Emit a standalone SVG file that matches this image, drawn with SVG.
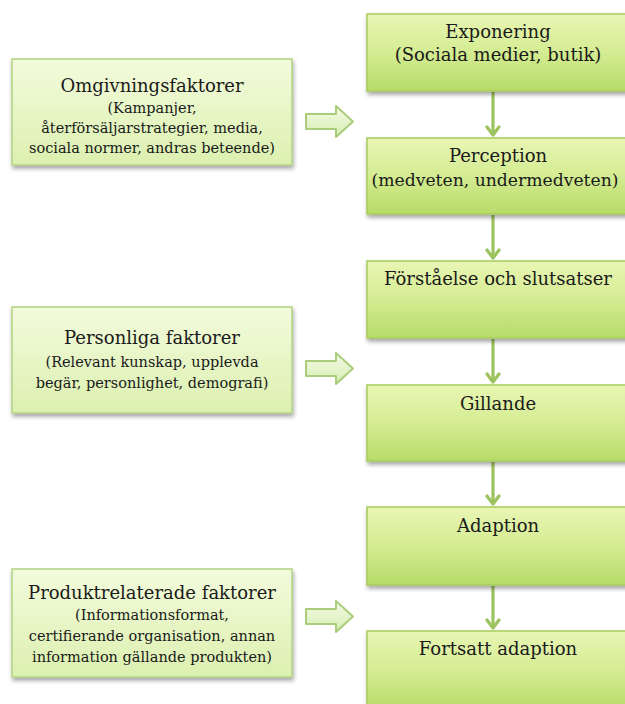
<svg xmlns="http://www.w3.org/2000/svg" width="625" height="704" viewBox="0 0 625 704">
<defs>
<linearGradient id="gR" x1="0" y1="0" x2="0" y2="1">
<stop offset="0" stop-color="#e9f6b4"/>
<stop offset="0.5" stop-color="#d4ec92"/>
<stop offset="1" stop-color="#b7db68"/>
</linearGradient>
<linearGradient id="gL" x1="0" y1="0" x2="0" y2="1">
<stop offset="0" stop-color="#f3fbdc"/>
<stop offset="1" stop-color="#dcf0b0"/>
</linearGradient>
<linearGradient id="gA" x1="0" y1="0" x2="0" y2="1">
<stop offset="0" stop-color="#f4fbe4"/>
<stop offset="1" stop-color="#d6edb4"/>
</linearGradient>
<filter id="sh" x="-10%" y="-10%" width="130%" height="140%">
<feGaussianBlur in="SourceAlpha" stdDeviation="2"/>
<feOffset dx="1" dy="3" result="b"/>
<feComponentTransfer><feFuncA type="linear" slope="0.35"/></feComponentTransfer>
<feMerge><feMergeNode/><feMergeNode in="SourceGraphic"/></feMerge>
</filter>
<marker id="ah" viewBox="0 0 12 16" refX="10" refY="8" markerWidth="12" markerHeight="16" markerUnits="userSpaceOnUse" orient="auto">
<path d="M2,2 L10,8 L2,14" fill="none" stroke="#9dc35e" stroke-width="3.2" stroke-linecap="round" stroke-linejoin="round"/>
</marker>
</defs>
<style>
.rb{fill:url(#gR);stroke:#a6cb5c;stroke-width:1.5;filter:url(#sh)}
.lb{fill:url(#gL);stroke:#b3d383;stroke-width:1.5;filter:url(#sh)}
.ba{fill:url(#gA);stroke:#a9cd7c;stroke-width:2;stroke-linejoin:round}
.t{font-family:"DejaVu Serif","Liberation Serif",serif;font-size:18px;fill:#1a1a1a;text-anchor:middle}
.s{font-family:"DejaVu Serif","Liberation Serif",serif;font-size:14.5px;fill:#1a1a1a;text-anchor:middle}
.c{stroke:#9dc35e;stroke-width:3.2;fill:none}
</style>
<rect width="625" height="704" fill="#ffffff"/>

<g id="connectors">
<line class="c" x1="493" y1="92" x2="493" y2="135" marker-end="url(#ah)"/>
<line class="c" x1="493" y1="215" x2="493" y2="258" marker-end="url(#ah)"/>
<line class="c" x1="493" y1="339" x2="493" y2="382" marker-end="url(#ah)"/>
<line class="c" x1="493" y1="462" x2="493" y2="504" marker-end="url(#ah)"/>
<line class="c" x1="493" y1="586" x2="493" y2="628" marker-end="url(#ah)"/>
<path id="ba1" class="ba" d="M306,114 L336,114 L336,106 L353,121.5 L336,137 L336,129 L306,129 Z"/>
<path id="ba2" class="ba" d="M306,361 L336,361 L336,353 L353,368.5 L336,384 L336,376 L306,376 Z"/>
<path id="ba3" class="ba" d="M306,609 L336,609 L336,601 L353,616.5 L336,632 L336,624 L306,624 Z"/>
</g>

<g id="exponering">
<rect class="rb" x="367" y="14" width="266" height="77"/>
<text class="t" x="498" y="38">Exponering</text>
<text class="t" x="498" y="61">(Sociala medier, butik)</text>
</g>
<g id="perception">
<rect class="rb" x="367" y="138" width="266" height="76"/>
<text class="t" x="498" y="162">Perception</text>
<text class="t" x="495" y="186" style="font-size:17.2px">(medveten, undermedveten)</text>
</g>
<g id="forstaelse">
<rect class="rb" x="367" y="261" width="266" height="77"/>
<text class="t" x="498" y="285">Förståelse och slutsatser</text>
</g>
<g id="gillande">
<rect class="rb" x="367" y="385" width="266" height="76"/>
<text class="t" x="498" y="410">Gillande</text>
</g>
<g id="adaption">
<rect class="rb" x="367" y="507" width="266" height="78"/>
<text class="t" x="498" y="532">Adaption</text>
</g>
<g id="fortsatt">
<rect class="rb" x="367" y="631" width="266" height="80"/>
<text class="t" x="498" y="655">Fortsatt adaption</text>
</g>

<g id="omgivning">
<rect class="lb" x="12" y="59" width="280" height="106"/>
<text class="t" x="152" y="92">Omgivningsfaktorer</text>
<text class="s" x="152" y="113">(Kampanjer,</text>
<text class="s" x="152" y="133">återförsäljarstrategier, media,</text>
<text class="s" x="152" y="153">sociala normer, andras beteende)</text>
</g>
<g id="personliga">
<rect class="lb" x="12" y="307" width="280" height="106"/>
<text class="t" x="152" y="344">Personliga faktorer</text>
<text class="s" x="152" y="367">(Relevant kunskap, upplevda</text>
<text class="s" x="152" y="388">begär, personlighet, demografi)</text>
</g>
<g id="produkt">
<rect class="lb" x="12" y="569" width="280" height="108"/>
<text class="t" x="152" y="599">Produktrelaterade faktorer</text>
<text class="s" x="152" y="620">(Informationsformat,</text>
<text class="s" x="152" y="641">certifierande organisation, annan</text>
<text class="s" x="152" y="662">information gällande produkten)</text>
</g>
</svg>
